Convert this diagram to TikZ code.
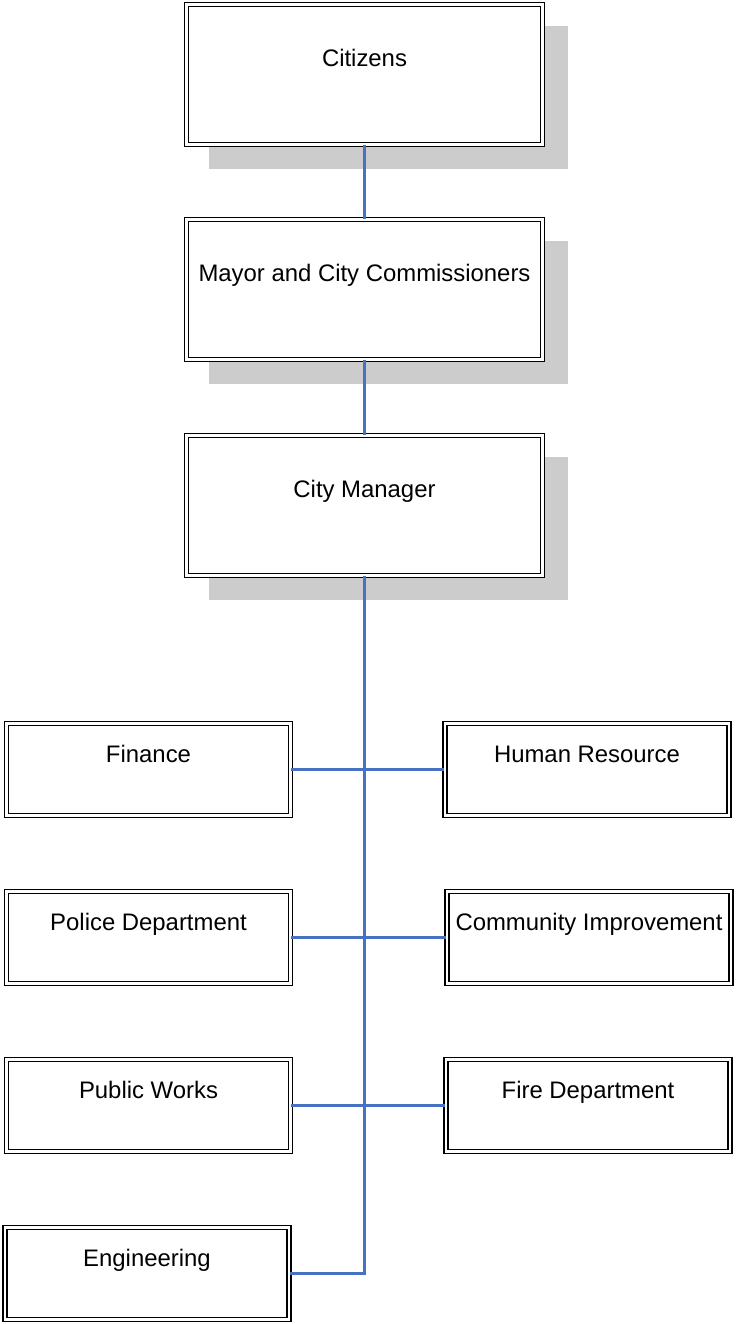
\documentclass[tikz,border=0pt]{standalone}
\usepackage{fontspec}
\setmainfont{Liberation Sans}
\usetikzlibrary{shadows}
\definecolor{lienbleu}{RGB}{70,114,196}
\begin{document}
\begin{tikzpicture}  % ------ Organigramme de la ville -------
      [x=0.02cm, y=-0.02cm,
       cadre/.style={draw, line width=1pt, double, double distance=1.2pt,
                     inner xsep=0pt, inner ysep=0pt, fill=white,
                     font=\fontsize{13.6}{16}\selectfont},
       grand/.style={cadre, minimum width=7.12cm, text height=1.24cm, text depth=1.56cm,
                     general shadow={fill=gray!40, draw=gray!40, line width=1.4pt,
                                     shadow xshift=0.48cm, shadow yshift=-0.46cm}},
       service/.style={cadre, minimum width=5.68cm, text height=0.78cm, text depth=1.06cm},
       lien/.style={draw=lienbleu, line width=1.2pt}]
    \useasboundingbox (0,0) rectangle (735,1324);

    % les trois niveaux du haut
    \node[grand] (cit) at (364.5,74.5)  {Citizens};
    \node[grand] (may) at (364.5,289.5) {Mayor and City Commissioners};
    \node[grand] (cm)  at (364.5,505.5) {City Manager};

    % les services
    \node[service] (fin) at (148.5,769.5)  {Finance};
    \node[service] (hr)  at (587,769.5)    {Human Resource};
    \node[service] (pol) at (148.5,937.5)  {Police Department};
    \node[service] (ci)  at (589,937.5)    {Community Improvement};
    \node[service] (pw)  at (148.5,1105.5) {Public Works};
    \node[service] (fir) at (588,1105.5)   {Fire Department};
    \node[service] (eng) at (147,1273.5)   {Engineering};

    \draw[lien] (cit.south) -- (may.north);
    \draw[lien] (may.south) -- (cm.north);
    \draw[lien] (cm.south) |- (eng.east);   % tronc commun
    \draw[lien] (fin.east) -- (hr.west);
    \draw[lien] (pol.east) -- (ci.west);
    \draw[lien] (pw.east)  -- (fir.west);
\end{tikzpicture}
\end{document}
